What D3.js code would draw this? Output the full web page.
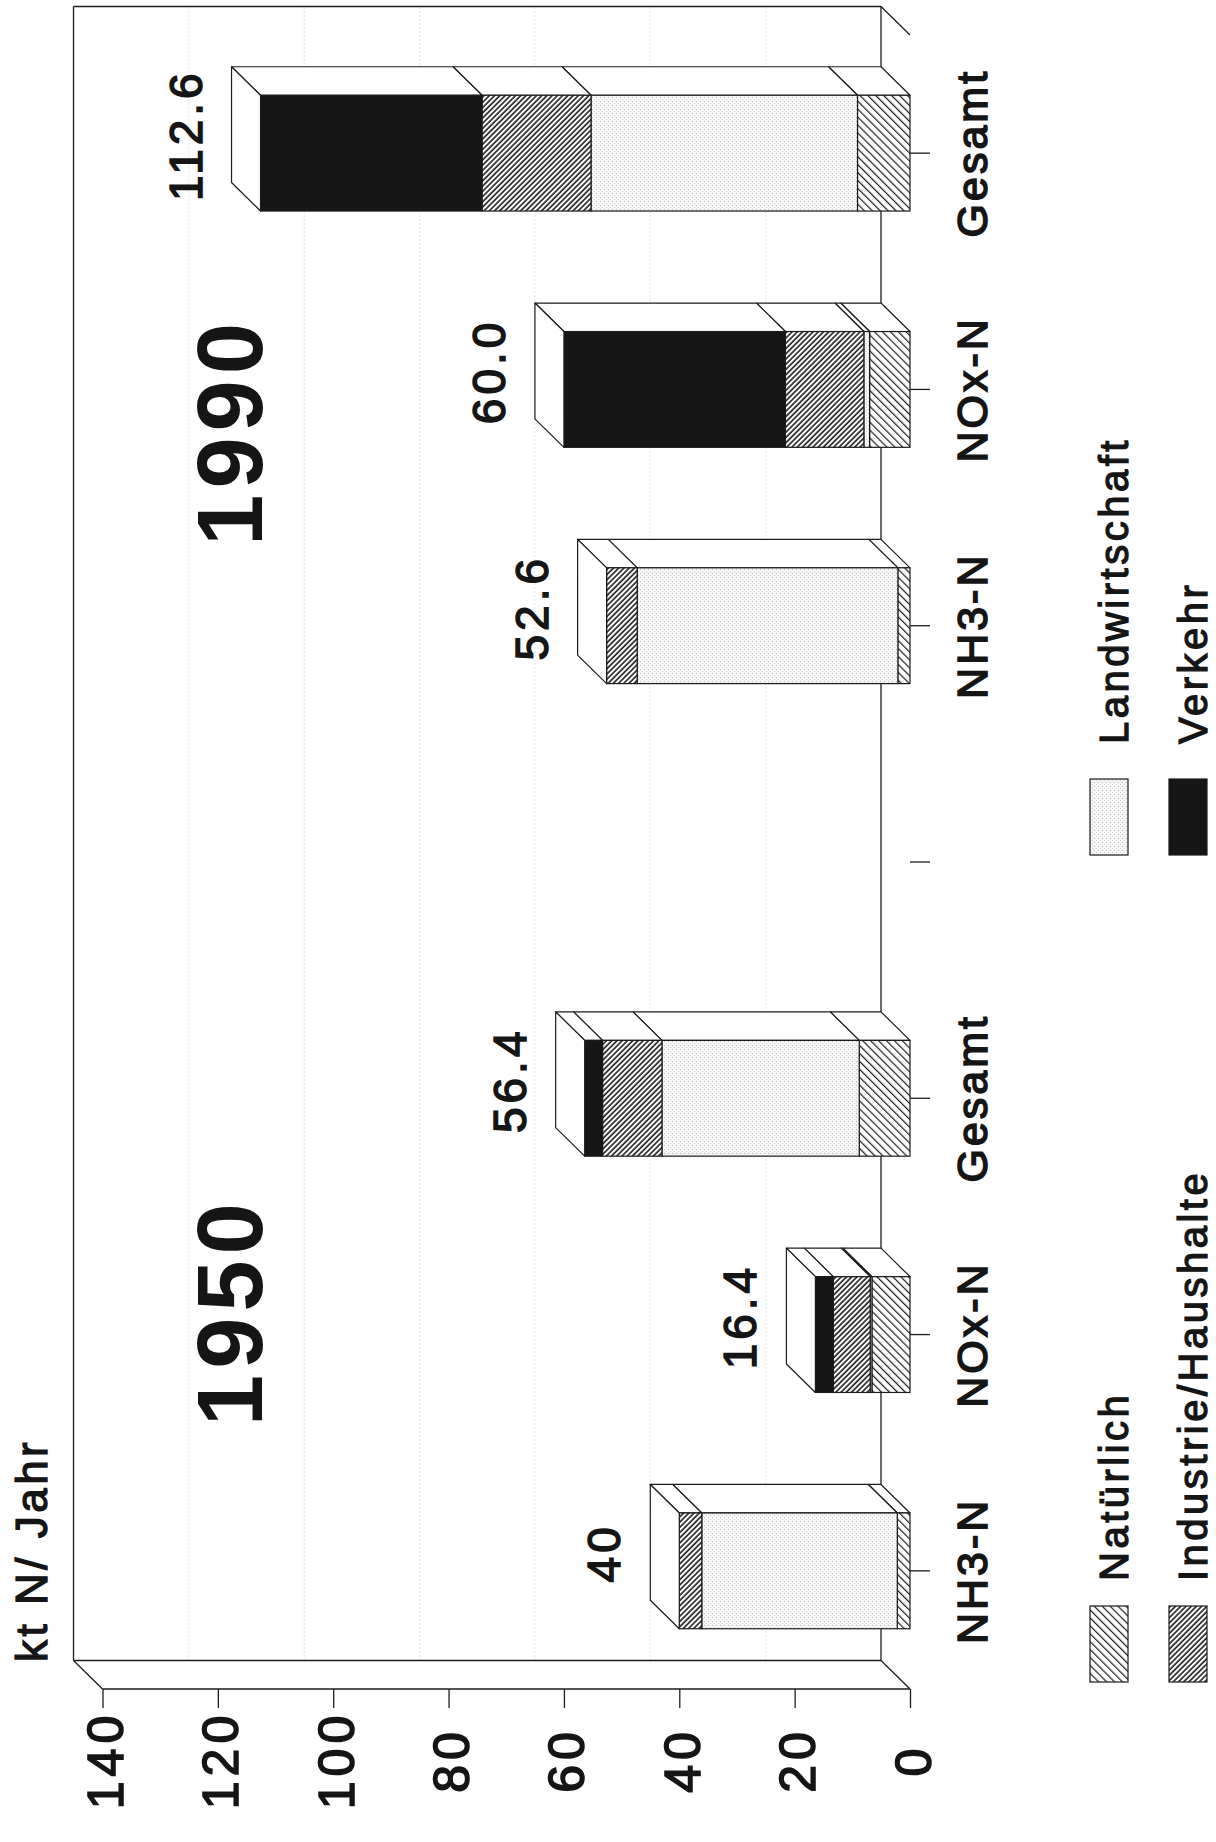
<!DOCTYPE html>
<html>
<head>
<meta charset="utf-8">
<script src="https://cdn.jsdelivr.net/npm/d3@7"></script>
<style>
  html, body { margin: 0; padding: 0; background: #fff; }
  svg { display: block; }
  text { font-family: "Liberation Sans", Arial, Helvetica, sans-serif; fill: #151515; }
</style>
</head>
<body>
<svg id="chart" width="1216" height="1842"></svg>
<script>
// Nitrogen emissions to the atmosphere (kt N per year), 1950 and 1990, by source.
const slotKeys   = ["nh3-1950", "nox-1950", "ges-1950", "gap", "nh3-1990", "nox-1990", "ges-1990"];
const categories = ["NH3-N", "NOx-N", "Gesamt", "", "NH3-N", "NOx-N", "Gesamt"];

const natuerlich     = [2.2, 6.6, 8.8, 0, 2.1, 7.0, 9.1];
const landwirtschaft = [33.9, 0.3, 34.2, 0, 45.2, 1.0, 46.2];
const industrie      = [3.9, 6.4, 10.3, 0, 5.3, 13.6, 18.9];
const verkehr        = [0, 3.1, 3.1, 0, 0, 38.4, 38.4];

const totalLabels = ["40", "16.4", "56.4", "", "52.6", "60.0", "112.6"];
const yearLabels  = ["1950", "1990"];
const valueTicks  = [0, 20, 40, 60, 80, 100, 120, 140];

const stackKeys   = ["Natürlich", "Landwirtschaft", "Industrie/Haushalte", "Verkehr"];
const legendOrder = ["Natürlich", "Industrie/Haushalte", "Landwirtschaft", "Verkehr"];
const unitLabel   = "kt N/ Jahr";

// ---------------------------------------------------------------------------
const svg = d3.select("#chart");
const INK = "#1c1c1c";

// patterns for the source fills
const defs = svg.append("defs");
function stripes(id, spacing, width, angle) {
  const p = defs.append("pattern").attr("id", id)
    .attr("patternUnits", "userSpaceOnUse")
    .attr("width", spacing).attr("height", spacing)
    .attr("patternTransform", `rotate(${angle})`);
  p.append("rect").attr("width", spacing).attr("height", spacing).attr("fill", "#fff");
  p.append("rect").attr("width", width).attr("height", spacing).attr("fill", INK);
}
stripes("pat-nat", 5.6, 1.2, 45);
stripes("pat-ind", 3.7, 1.6, -45);
const dots = defs.append("pattern").attr("id", "pat-landw")
  .attr("patternUnits", "userSpaceOnUse").attr("width", 4).attr("height", 4);
dots.append("rect").attr("width", 4).attr("height", 4).attr("fill", "#f6f6f6");
dots.append("rect").attr("x", 0).attr("y", 0).attr("width", 1).attr("height", 1).attr("fill", "#b8b8b8");
dots.append("rect").attr("x", 2).attr("y", 2).attr("width", 1).attr("height", 1).attr("fill", "#cfcfcf");

const fills = {
  "Natürlich": "url(#pat-nat)",
  "Landwirtschaft": "url(#pat-landw)",
  "Industrie/Haushalte": "url(#pat-ind)",
  "Verkehr": "#161616"
};

// the chart is laid out as an upright bar chart and turned a quarter turn
const g = svg.append("g").attr("transform", "translate(0,1842) rotate(-90)");

const x = d3.scaleBand().domain(slotKeys).range([153, 1807])
  .paddingInner(0.51).paddingOuter(0.255);
const y = d3.scaleLinear().domain([0, 140]).range([910, 102.5]);
const DX = 28.5, DY = 29;           // depth offset of the 3D box
const x0 = 153, x1 = 1807, yTop = y(140), yBase = y(0);

const line = (a, b, c, d) => g.append("line")
  .attr("x1", a).attr("y1", b).attr("x2", c).attr("y2", d)
  .attr("stroke", INK).attr("stroke-width", 1.3);

// back wall grid
g.append("g").selectAll("line").data(valueTicks.filter(v => v > 0 && v < 140)).join("line")
  .attr("x1", x0 + DX).attr("x2", x1 + DX)
  .attr("y1", d => y(d) - DY).attr("y2", d => y(d) - DY)
  .attr("stroke", "#c4c4c4").attr("stroke-width", 1).attr("stroke-dasharray", "1,3");

// back wall, left wall and floor outlines
line(x0 + DX, yTop - DY, x1 + DX, yTop - DY);
line(x1 + DX, yTop - DY, x1 + DX, yBase - DY);
line(x0 + DX, yBase - DY, x1 + DX, yBase - DY);
line(x0 + DX, yTop - DY, x0 + DX, yBase - DY);
line(x0, yTop, x0, yBase);
line(x0, yTop, x0 + DX, yTop - DY);
line(x0, yBase, x0 + DX, yBase - DY);
line(x1, yBase, x1 + DX, yBase - DY);

// stacked 3D bars
const table = slotKeys.map((k, i) => ({
  key: k,
  "Natürlich": natuerlich[i],
  "Landwirtschaft": landwirtschaft[i],
  "Industrie/Haushalte": industrie[i],
  "Verkehr": verkehr[i]
}));
const series = d3.stack().keys(stackKeys)(table);

slotKeys.forEach((k, i) => {
  const segs = series.map(s => ({ key: s.key, v0: s[i][0], v1: s[i][1] }))
    .filter(d => d.v1 > d.v0);
  if (!segs.length) return;
  const bx = x(k), bw = x.bandwidth();
  const top = d3.max(segs, d => d.v1);
  const bar = g.append("g").attr("class", "bar");

  bar.selectAll("polygon.side").data(segs).join("polygon").attr("class", "side")
    .attr("points", d => [
      [bx + bw, y(d.v0)], [bx + bw + DX, y(d.v0) - DY],
      [bx + bw + DX, y(d.v1) - DY], [bx + bw, y(d.v1)]
    ].join(" "))
    .attr("fill", "#fff").attr("stroke", INK).attr("stroke-width", 1.2)
    .attr("stroke-linejoin", "round");

  bar.selectAll("rect.front").data(segs).join("rect").attr("class", "front")
    .attr("x", bx).attr("width", bw)
    .attr("y", d => y(d.v1)).attr("height", d => y(d.v0) - y(d.v1))
    .attr("fill", d => fills[d.key]).attr("stroke", INK).attr("stroke-width", 1.2);

  bar.append("polygon").attr("class", "top")
    .attr("points", [
      [bx, y(top)], [bx + DX, y(top) - DY],
      [bx + bw + DX, y(top) - DY], [bx + bw, y(top)]
    ].join(" "))
    .attr("fill", "#fff").attr("stroke", INK).attr("stroke-width", 1.2)
    .attr("stroke-linejoin", "round");

  bar.append("text")
    .attr("x", bx + bw / 2 + 18).attr("y", y(top) - DY - 30)
    .attr("text-anchor", "middle")
    .style("font-size", "46px").style("letter-spacing", "4px")
    .style("stroke", "#151515").style("stroke-width", "1.5px")
    .text(totalLabels[i]);
});

// value axis
const yAxis = g.append("g").attr("transform", `translate(${x0},0)`)
  .call(d3.axisLeft(y).tickValues(valueTicks).tickSize(19).tickFormat(d3.format("d")));
yAxis.select(".domain").remove();
yAxis.selectAll(".tick line").attr("stroke", INK).attr("stroke-width", 1.3);
yAxis.selectAll(".tick text")
  .attr("x", -71).attr("dy", "0.4em").attr("text-anchor", "middle").attr("fill", "#151515")
  .style("font-size", "50px").style("letter-spacing", "5px")
  .style("stroke", "#151515").style("stroke-width", "1.6px")
  .style("font-family", "'Liberation Sans', Arial, sans-serif");

// category axis
const xAxis = g.append("g").attr("transform", `translate(0,${yBase})`)
  .call(d3.axisBottom(x).tickSize(20).tickFormat((d, i) => categories[i]));
xAxis.select(".domain").remove();
xAxis.selectAll(".tick line").attr("stroke", INK).attr("stroke-width", 1.3);
xAxis.selectAll(".tick text")
  .attr("y", 77).attr("dy", 0).attr("fill", "#151515")
  .style("font-size", "43px").style("letter-spacing", "3px")
  .style("stroke", "#151515").style("stroke-width", "1.6px")
  .style("font-family", "'Liberation Sans', Arial, sans-serif");

// year headings, centred near the middle bar of each group
const yearCentres = [x("nox-1950") + x.bandwidth() / 2 + 23, x("nox-1990") + x.bandwidth() / 2 - 42];
g.selectAll("text.year").data(yearLabels).join("text").attr("class", "year")
  .attr("x", (d, i) => yearCentres[i])
  .attr("y", 262).attr("text-anchor", "middle")
  .style("font-size", "92px").style("font-weight", "bold").style("letter-spacing", "6px")
  .text(d => d);

// unit label
g.append("text").attr("x", 180).attr("y", 47)
  .style("font-size", "44px").style("letter-spacing", "3.5px")
  .style("stroke", "#151515").style("stroke-width", "1.3px")
  .text(unitLabel);

// legend, two columns of two entries
const legend = g.append("g").selectAll("g").data(legendOrder).join("g")
  .attr("transform", (d, i) => `translate(${i < 2 ? 160 : 987},${i % 2 === 0 ? 1090 : 1169})`);
legend.append("rect").attr("width", 76).attr("height", 38)
  .attr("fill", d => fills[d]).attr("stroke", INK).attr("stroke-width", 1.2);
legend.append("text").attr("x", d => legendOrder.indexOf(d) < 2 ? 101 : 111).attr("y", 38)
  .style("font-size", "40px").style("letter-spacing", "3.5px")
  .style("stroke", "#151515").style("stroke-width", "1.3px")
  .text(d => d);
</script>
</body>
</html>
